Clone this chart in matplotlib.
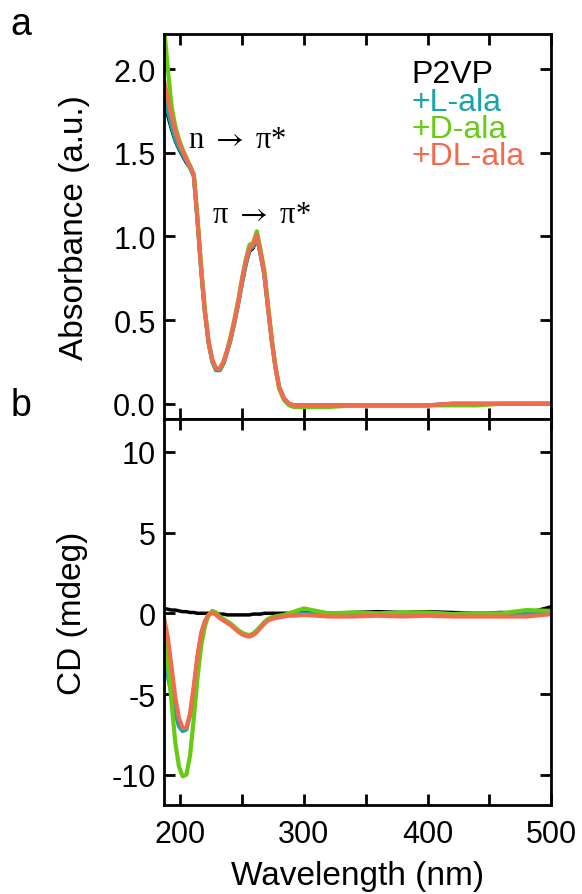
#absorbance and CD spectra of P2VP with alanine enantiomers, two stacked panels
import numpy as np
import matplotlib.pyplot as plt
from matplotlib.ticker import MultipleLocator

plt.rcParams['font.family'] = ['Liberation Sans', 'DejaVu Sans']
plt.rcParams['axes.unicode_minus'] = False
plt.rcParams['mathtext.fontset'] = 'stix'

labels = ['P2VP', '+L-ala', '+D-ala', '+DL-ala']
colors = ['#000000', '#1ba3a8', '#66cc11', '#f26b4f']

# wavelength grid (nm)
wl = [187, 190, 193, 196, 199, 202, 205, 208, 211, 214, 217, 220, 223, 226, 229,
      232, 235, 238, 241, 244, 247, 250, 253, 256, 259, 262, 265, 268, 271, 274,
      277, 280, 284, 288, 292, 300, 320, 340, 360, 380, 400, 420, 440, 460, 480, 500]

# absorbance (a.u.)
abs_p2vp = [1.80, 1.72, 1.64, 1.57, 1.52, 1.48, 1.44, 1.41, 1.36, 1.09, 0.79, 0.54, 0.36,
            0.25, 0.20, 0.20, 0.24, 0.31, 0.39, 0.49, 0.60, 0.72, 0.83, 0.91, 0.93, 0.99,
            0.89, 0.77, 0.57, 0.38, 0.22, 0.10, 0.03, 0.00, -0.01, -0.01, -0.01, -0.01,
            -0.01, -0.01, -0.01, 0.00, 0.00, 0.00, 0.00, 0.00]
abs_l = [1.85, 1.75, 1.66, 1.58, 1.53, 1.49, 1.45, 1.41, 1.36, 1.09, 0.79, 0.54, 0.36,
         0.25, 0.20, 0.20, 0.24, 0.31, 0.39, 0.49, 0.60, 0.72, 0.83, 0.92, 0.94, 1.00,
         0.89, 0.77, 0.57, 0.38, 0.22, 0.10, 0.03, 0.00, -0.01, -0.01, -0.01, -0.01,
         -0.01, -0.01, -0.01, 0.00, 0.00, 0.00, 0.00, 0.00]
abs_d = [2.25, 2.00, 1.78, 1.66, 1.58, 1.52, 1.47, 1.42, 1.37, 1.11, 0.81, 0.56, 0.37,
         0.26, 0.21, 0.21, 0.25, 0.32, 0.41, 0.51, 0.62, 0.75, 0.86, 0.95, 0.96, 1.03,
         0.92, 0.80, 0.59, 0.39, 0.22, 0.09, 0.02, -0.01, -0.02, -0.02, -0.02, -0.01,
         -0.01, -0.01, -0.01, -0.01, -0.01, 0.00, 0.00, 0.00]
abs_dl = [1.93, 1.82, 1.72, 1.63, 1.56, 1.51, 1.46, 1.42, 1.37, 1.10, 0.80, 0.55, 0.37,
          0.26, 0.21, 0.21, 0.25, 0.32, 0.40, 0.50, 0.61, 0.74, 0.85, 0.93, 0.95, 1.01,
          0.90, 0.78, 0.58, 0.38, 0.22, 0.10, 0.03, 0.00, -0.01, -0.01, -0.01, -0.01,
          -0.01, -0.01, -0.01, 0.00, 0.00, 0.00, 0.00, 0.00]

# circular dichroism (mdeg)
cd_p2vp = [0.3, 0.25, 0.2, 0.2, 0.15, 0.1, 0.1, 0.05, 0.05, 0.0, 0.0, 0.0, 0.0, 0.0, 0.0,
           -0.05, -0.05, -0.1, -0.1, -0.1, -0.1, -0.1, -0.1, -0.1, -0.05, -0.05, -0.05,
           0.0, 0.0, 0.0, 0.0, 0.0, 0.0, 0.0, 0.0, 0.05, 0.0, 0.05, 0.1, 0.05, 0.1,
           0.05, 0.0, 0.05, 0.0, 0.4]
cd_l = [-3.2, -3.9, -5.0, -6.2, -7.0, -7.3, -7.2, -6.3, -4.7, -2.8, -1.3, -0.5, -0.1,
        0.05, -0.05, -0.25, -0.4, -0.55, -0.7, -0.9, -1.1, -1.25, -1.35, -1.4, -1.3,
        -1.1, -0.85, -0.6, -0.4, -0.3, -0.25, -0.2, -0.15, -0.1, -0.05, 0.0, -0.1,
        0.0, -0.05, 0.0, 0.0, -0.05, 0.0, -0.05, 0.0, 0.1]
cd_d = [-1.3, -3.0, -5.5, -8.0, -9.5, -10.1, -10.0, -8.8, -6.5, -4.0, -2.0, -0.8, -0.1,
        0.15, 0.05, -0.2, -0.35, -0.5, -0.65, -0.85, -1.05, -1.2, -1.3, -1.35, -1.25,
        -1.05, -0.8, -0.55, -0.35, -0.25, -0.2, -0.15, -0.1, 0.0, 0.1, 0.3, 0.0, 0.05,
        0.0, 0.05, 0.05, -0.05, 0.0, 0.0, 0.2, 0.15]
cd_dl = [-0.3, -1.5, -3.3, -5.2, -6.5, -7.1, -7.1, -6.2, -4.5, -2.6, -1.2, -0.5, -0.1,
         0.05, -0.1, -0.3, -0.45, -0.6, -0.75, -0.95, -1.15, -1.3, -1.4, -1.45, -1.35,
         -1.15, -0.9, -0.65, -0.45, -0.35, -0.3, -0.25, -0.2, -0.15, -0.15, -0.1, -0.2,
         -0.2, -0.15, -0.2, -0.15, -0.2, -0.2, -0.2, -0.2, -0.05]

abs_all = [abs_p2vp, abs_l, abs_d, abs_dl]
cd_all = [cd_p2vp, cd_l, cd_d, cd_dl]


def Styleize(ax):
    for s in ax.spines.values():
        s.set_linewidth(2)
    ax.tick_params(which='both', direction='in', top=True, right=True,
                   length=8, width=2, labelsize=22, pad=6)
    ax.tick_params(axis='x', pad=10)
    ax.set_xlim(187, 500)
    ax.xaxis.set_major_locator(MultipleLocator(100))
    ax.xaxis.set_minor_locator(MultipleLocator(50))


fig = plt.figure(figsize=(5.82, 8.95), dpi=100)
ax1 = fig.add_axes([0.282, 0.531, 0.665, 0.430])
ax2 = fig.add_axes([0.282, 0.099, 0.665, 0.432], sharex=ax1)

for y, c in zip(abs_all, colors):
    ax1.plot(wl, y, color=c, lw=2.5 if c == '#000000' else 3)
for y, c in zip(cd_all, colors):
    ax2.plot(wl, y, color=c, lw=2.5 if c == '#000000' else 3)

Styleize(ax1)
Styleize(ax2)
ax1.set_ylim(-0.09, 2.21)
ax1.yaxis.set_major_locator(MultipleLocator(0.5))
ax1.yaxis.set_major_formatter(plt.FormatStrFormatter('%.1f'))
ax1.tick_params(labelbottom=False)
ax2.set_ylim(-11.9, 12.05)
ax2.yaxis.set_major_locator(MultipleLocator(5))

ax1.set_ylabel('Absorbance (a.u.)', fontsize=24, labelpad=17)
ax2.set_ylabel('CD (mdeg)', fontsize=24, labelpad=17)
ax2.set_xlabel('Wavelength (nm)', fontsize=24, labelpad=8)

serif = ['Liberation Serif', 'DejaVu Serif']
ax1.text(206, 1.58, 'n $\\rightarrow$ \u03c0*', family=serif, fontsize=22, va='center')
ax1.text(226, 1.13, '\u03c0 $\\rightarrow$ \u03c0*', family=serif, fontsize=22, va='center')

for i, (lab, c) in enumerate(zip(labels, colors)):
    ax1.text(0.64, 0.895 - i * 0.071, lab, color=c, fontsize=23,
             transform=ax1.transAxes, va='center')

fig.text(0.018, 0.972, 'a', fontsize=27, va='center')
fig.text(0.018, 0.546, 'b', fontsize=27, va='center')

plt.savefig('out.png')
